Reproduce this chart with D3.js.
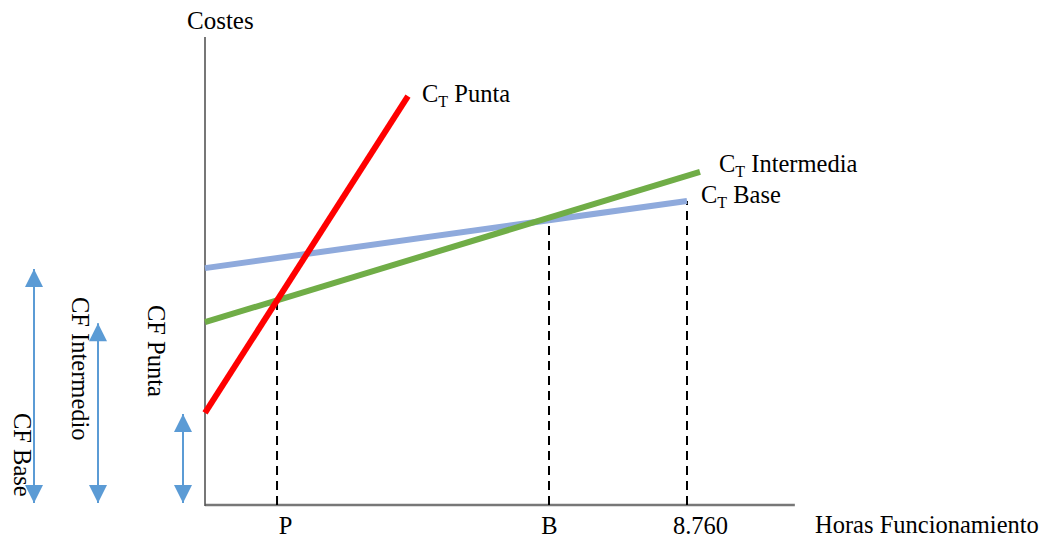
<!DOCTYPE html>
<html>
<head>
<meta charset="utf-8">
<script src="https://cdn.jsdelivr.net/npm/d3@7"></script>
<style>
  html, body { margin: 0; padding: 0; background: #fff; }
  svg { display: block; }
  text { font-family: "Liberation Serif", "Times New Roman", serif; fill: #000; }
</style>
</head>
<body>
<script>
// ---- data (hours of operation vs cost, arbitrary cost units) ----
const seriesNames = ["Base", "Intermedia", "Punta"];
const baseLine = [[0, 50.4], [8760, 64.7]];
const intermediaLine = [[0, 38.9], [8996, 70.9]];
const puntaLine = [[0, 19.6], [3689, 87.0]];

const tickLabels = ["P", "B", "8.760"];
const tickHours = [1309, 6252, 8760];
const tickTops = [43.6, 61.1, 64.7];

const fixedCostNames = ["CF Base", "CF Intermedio", "CF Punta"];
const fixedCostValues = [50.4, 38.9, 19.6];

const xMax = 10720, yMax = 100;

// ---- layout ----
const W = 1062, H = 538;
const FS = "24.5px";
const svg = d3.select("body").append("svg").attr("width", W).attr("height", H);

const x = d3.scaleLinear().domain([0, 8760]).range([205, 687]);
const y = d3.scaleLinear().domain([0, yMax]).range([505, 35]);

// arrowhead markers
const defs = svg.append("defs");
["start", "end"].forEach(k => {
  defs.append("marker")
    .attr("id", "arr-" + k)
    .attr("viewBox", "0 0 10 10")
    .attr("refX", 10).attr("refY", 5)
    .attr("markerWidth", 19).attr("markerHeight", 18)
    .attr("markerUnits", "userSpaceOnUse")
    .attr("orient", k === "start" ? "auto-start-reverse" : "auto")
    .append("path").attr("d", "M0,0 L10,5 L0,10 Z").attr("fill", "#5b9bd5");
});

// ---- axes ----
const xAxis = d3.axisBottom(x)
  .tickValues(tickHours)
  .tickFormat((d, i) => tickLabels[i])
  .tickSize(0)
  .tickSizeOuter(0);
const gx = svg.append("g").attr("transform", `translate(0,${y(0)})`).call(xAxis);
gx.select(".domain").attr("d", `M${x(0)},0H${x(xMax)}`)
  .attr("stroke", "#777").attr("stroke-width", 2.5);
const labelDx = [8, 0, 13];
gx.selectAll(".tick text")
  .attr("y", 0).attr("dy", 0)
  .attr("transform", (d, i) => `translate(${labelDx[i]},29)`)
  .style("font-size", FS)
  .style("font-family", '"Liberation Serif", serif')
  .attr("fill", "#000");

const yAxis = d3.axisLeft(y).tickValues([]).tickSize(0).tickSizeOuter(0);
const gy = svg.append("g").attr("transform", `translate(${x(0)},0)`).call(yAxis);
gy.select(".domain").attr("d", `M0,${y(0) + 1}V${y(99.6)}`)
  .attr("stroke", "#555").attr("stroke-width", 1.6);

// axis titles
svg.append("text").attr("x", 187).attr("y", 29).style("font-size", "25px").text("Costes");
svg.append("text").attr("x", 815).attr("y", 533).style("font-size", FS).text("Horas Funcionamiento");

// ---- dashed guides ----
svg.append("g").selectAll("line").data(tickHours).join("line")
  .attr("x1", d => x(d)).attr("x2", d => x(d))
  .attr("y1", y(0)).attr("y2", (d, i) => y(tickTops[i]))
  .attr("stroke", "#000").attr("stroke-width", 2)
  .attr("stroke-dasharray", "9,6");

// ---- cost lines ----
const lineGen = d3.line().x(d => x(d[0])).y(d => y(d[1]));
const lines = [
  { data: baseLine, color: "#8faadc" },
  { data: intermediaLine, color: "#70ad47" },
  { data: puntaLine, color: "#ff0000" }
];
svg.append("g").selectAll("path").data(lines).join("path")
  .attr("d", d => lineGen(d.data))
  .attr("fill", "none")
  .attr("stroke", d => d.color)
  .attr("stroke-width", 6);

// line labels
const lineLabelPos = [[701, 203], [719, 172], [422, 102]];
seriesNames.forEach((name, i) => {
  const t = svg.append("text")
    .attr("x", lineLabelPos[i][0]).attr("y", lineLabelPos[i][1])
    .style("font-size", FS);
  t.append("tspan").text("C");
  t.append("tspan").attr("dy", 5).style("font-size", "16px").text("T");
  t.append("tspan").attr("dy", -5).text(" " + name);
});

// ---- fixed-cost arrows ----
const arrowX = [34, 98, 183];
svg.append("g").selectAll("line").data(fixedCostValues).join("line")
  .attr("x1", (d, i) => arrowX[i]).attr("x2", (d, i) => arrowX[i])
  .attr("y1", d => y(d) + 1).attr("y2", y(0) - 2)
  .attr("stroke", "#5b9bd5").attr("stroke-width", 2)
  .attr("marker-start", "url(#arr-start)")
  .attr("marker-end", "url(#arr-end)");

// rotated labels
const fcLabelPos = [[14, 413], [72, 297], [148, 305]];
fixedCostNames.forEach((name, i) => {
  svg.append("text")
    .attr("transform", `translate(${fcLabelPos[i][0]},${fcLabelPos[i][1]}) rotate(90)`)
    .style("font-size", FS)
    .text(name);
});
</script>
</body>
</html>
